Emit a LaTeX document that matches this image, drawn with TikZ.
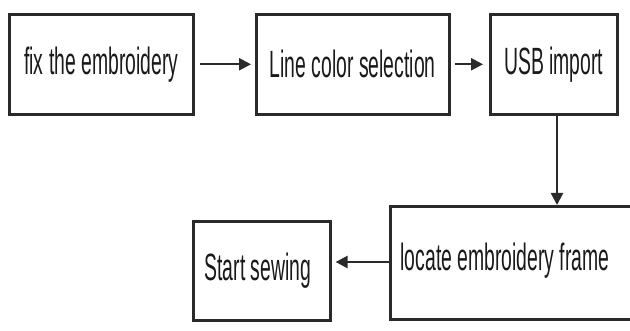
\documentclass[tikz,border=0pt]{standalone}
\usepackage{fontspec}
\setmainfont[FakeStretch=0.51]{Liberation Sans}
\usetikzlibrary{arrows.meta}
\definecolor{edge}{HTML}{2A2A2A}
\definecolor{ink}{HTML}{1A1A1A}
\tikzset{
  stepbox/.style={draw=edge, line width=2.6pt, fill=white, anchor=north west,
    inner sep=0pt},
  lbl/.style={text=ink, font=\fontsize{38}{40}\selectfont, inner sep=0pt},
  flow/.style={draw=edge, line width=2.4pt,
    -{Triangle[length=12pt,width=12pt]}},
}
\begin{document}
\begin{tikzpicture}[x=1pt, y=-1pt]
  \useasboundingbox (0,0) rectangle (630,331);
  \clip (0,0) rectangle (630,331);
  % process boxes
  \node[stepbox, minimum width=184pt, minimum height=100pt] (fix) at (8,13) {};
  \node[stepbox, minimum width=193pt, minimum height=100pt] (color) at (255,13) {};
  \node[stepbox, minimum width=127pt, minimum height=100pt] (usb) at (489,13) {};
  \node[stepbox, minimum width=260pt, minimum height=113pt] (frame) at (389,205) {};
  \node[stepbox, minimum width=137pt, minimum height=99pt] (sew) at (192,220) {};
  % labels
  \node[lbl] (fixt) at (fix.center) {fix the embroidery};
  \node[lbl] (colort) at (color.center) {Line color selection};
  \node[lbl] (usbt) at (usb.center) {USB import};
  \node[lbl] (framet) at (505,261) {locate embroidery frame};
  \node[lbl] (sewt) at ([xshift=-4pt]sew.center) {Start sewing};
  % connectors
  \draw[flow, shorten <=5pt, shorten >=4pt] (fix.east) -- (color.west);
  \draw[flow, shorten <=4pt, shorten >=6pt] (color.east) -- (usb.west);
  \coordinate (down) at (557,113);
  \draw[flow] (down) -- (down |- frame.north);
  \draw[flow, shorten >=4pt] (frame.west |- 0,262) -- (sew.east |- 0,262);
\end{tikzpicture}
\end{document}
